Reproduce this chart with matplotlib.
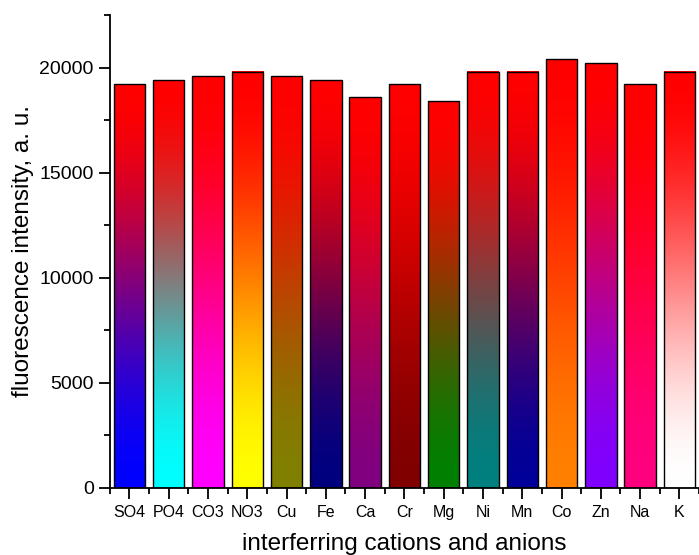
#interference test bar chart with vertical colour gradients
import numpy as np
import matplotlib.pyplot as plt
import matplotlib as mpl
from matplotlib.colors import to_rgb
from matplotlib.ticker import MultipleLocator

mpl.rc('font', family='Liberation Sans')

ions = ['SO4', 'PO4', 'CO3', 'NO3', 'Cu', 'Fe', 'Ca', 'Cr', 'Mg', 'Ni', 'Mn', 'Co', 'Zn', 'Na', 'K']
intensity = [19200, 19400, 19600, 19800, 19600, 19400, 18600, 19200, 18400, 19800, 19800, 20400, 20200, 19200, 19800]
bottom_colors = ['#0000ff', '#00ffff', '#ff00ff', '#ffff00', '#808000', '#000080', '#800080', '#800000',
                 '#008000', '#008080', '#000099', '#ff8000', '#8000ff', '#ff0080', '#ffffff']
top_color = '#ff0000'

bar_width = 0.8

fig = plt.figure(figsize=(6.99, 5.55), dpi=100)
ax = fig.add_axes([0.157, 0.121, 0.843, 0.852])

x = np.arange(len(ions))
bars = ax.bar(x, intensity, width=bar_width, facecolor='none', edgecolor='black', linewidth=1.0, zorder=3)

n_steps = 256
f = np.linspace(0, 1, n_steps)
frac = (3 * f**2 - 2 * f**3)[:, None]   # smooth blend, bottom colour holds a bit longer
for xi, h, c in zip(x, intensity, bottom_colors):
    c0 = np.array(to_rgb(c))
    c1 = np.array(to_rgb(top_color))
    grad = (c0[None, :] * (1 - frac) + c1[None, :] * frac)[:, None, :]
    ax.imshow(grad, extent=[xi - bar_width / 2, xi + bar_width / 2, 0, h], origin='lower',
              aspect='auto', interpolation='bilinear', zorder=2)

ax.set_xlim(-0.5, len(ions) - 0.5)
ax.set_ylim(0, 22500)
ax.set_xticks(x)
ax.set_xticklabels(ions, fontsize=11.5)
ax.xaxis.set_minor_locator(MultipleLocator(1, offset=0.5))
ax.yaxis.set_major_locator(MultipleLocator(5000))
ax.yaxis.set_minor_locator(MultipleLocator(2500))
ax.tick_params(axis='y', which='major', labelsize=14, length=8, width=1.3, direction='out')
ax.tick_params(axis='y', which='minor', length=4, width=1.3, direction='out')
ax.tick_params(axis='x', which='major', length=8, width=1.3, direction='out', pad=4)
ax.tick_params(axis='x', which='minor', length=4, width=1.3, direction='out')

ax.spines['top'].set_visible(False)
ax.spines['right'].set_visible(False)
ax.spines['left'].set_linewidth(1.3)
ax.spines['bottom'].set_linewidth(1.3)

ax.set_xlabel('interferring cations and anions', fontsize=17.5, labelpad=10)
ax.set_ylabel('fluorescence intensity, a. u.', fontsize=17.5, labelpad=4)

plt.savefig('out.png', dpi=100)
plt.close()
